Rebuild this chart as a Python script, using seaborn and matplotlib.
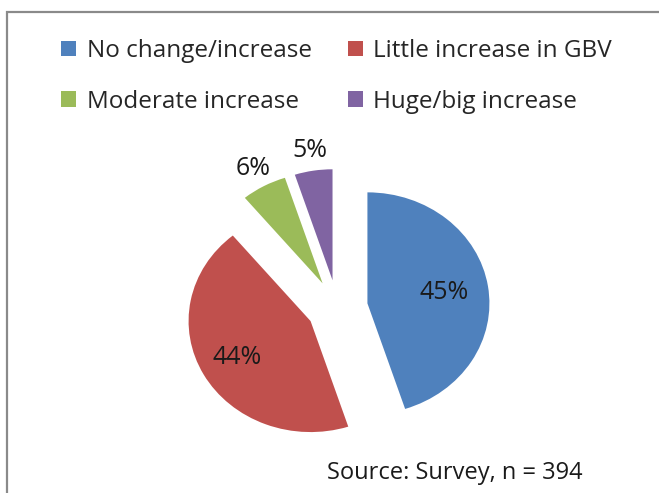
import numpy as np
import matplotlib
matplotlib.use("Agg")
import matplotlib.pyplot as plt
import seaborn as sns
from matplotlib.patches import Rectangle

# ---- data ----
categories = ["No change/increase", "Little increase in GBV",
              "Moderate increase", "Huge/big increase"]
shares = [45, 44, 6, 5]
pct_labels = ["45%", "44%", "6%", "5%"]
source_text = "Source: Survey, n = 394"

# ---- style ----
colors = ["#4F81BD", "#C0504D", "#9BBB59", "#8064A2"]
label_dist = [0.64, 0.69, 1.18, 1.18]

sns.set_theme(style="white")
plt.rcParams["font.family"] = ["Open Sans", "DejaVu Sans"]

W, H = 659, 493
fig = plt.figure(figsize=(W / 100, H / 100), dpi=100)
fig.patch.set_facecolor("white")
ax = fig.add_axes([0, 0, 1, 1])

wedges, _ = ax.pie(shares, colors=colors, startangle=90, counterclock=False,
                   explode=[0.25] * len(shares),
                   wedgeprops=dict(linewidth=0))

for w, lab, d in zip(wedges, pct_labels, label_dist):
    mid = np.deg2rad((w.theta1 + w.theta2) / 2)
    cx0, cy0 = w.center
    ax.text(cx0 + d * np.cos(mid), cy0 + d * np.sin(mid), lab,
            ha="center", va="center", fontsize=18, color="#1a1a1a")

# pie is slightly stretched horizontally in the reference
rx, ry = 122.0, 111.0
cx, cy = 337.3, H - 307.7
ax.set_aspect("auto")
ax.set_xlim(-cx / rx, (W - cx) / rx)
ax.set_ylim(-cy / ry, (H - cy) / ry)
ax.axis("off")

# legend filled row by row (matplotlib fills column-wise)
order = [0, 2, 1, 3]
fig.legend([wedges[i] for i in order], [categories[i] for i in order],
           ncol=2, loc="upper left",
           bbox_to_anchor=(61 / W, 1 - 39 / H), frameon=False,
           fontsize=17.5, handlelength=0.6, handleheight=0.6,
           handletextpad=0.45, columnspacing=1.5, labelspacing=1.1,
           borderpad=0, borderaxespad=0)

fig.text(327 / W, 1 - 473 / H, source_text, ha="left", va="center",
         fontsize=17, color="#1a1a1a")

fig.patches.append(Rectangle((7 / W, -0.1), 1.2, (H - 12.5) / H + 0.1,
                             transform=fig.transFigure, fill=False,
                             edgecolor="#8a8a8a", linewidth=1.6))

fig.savefig("out.png", dpi=100, facecolor="white")
